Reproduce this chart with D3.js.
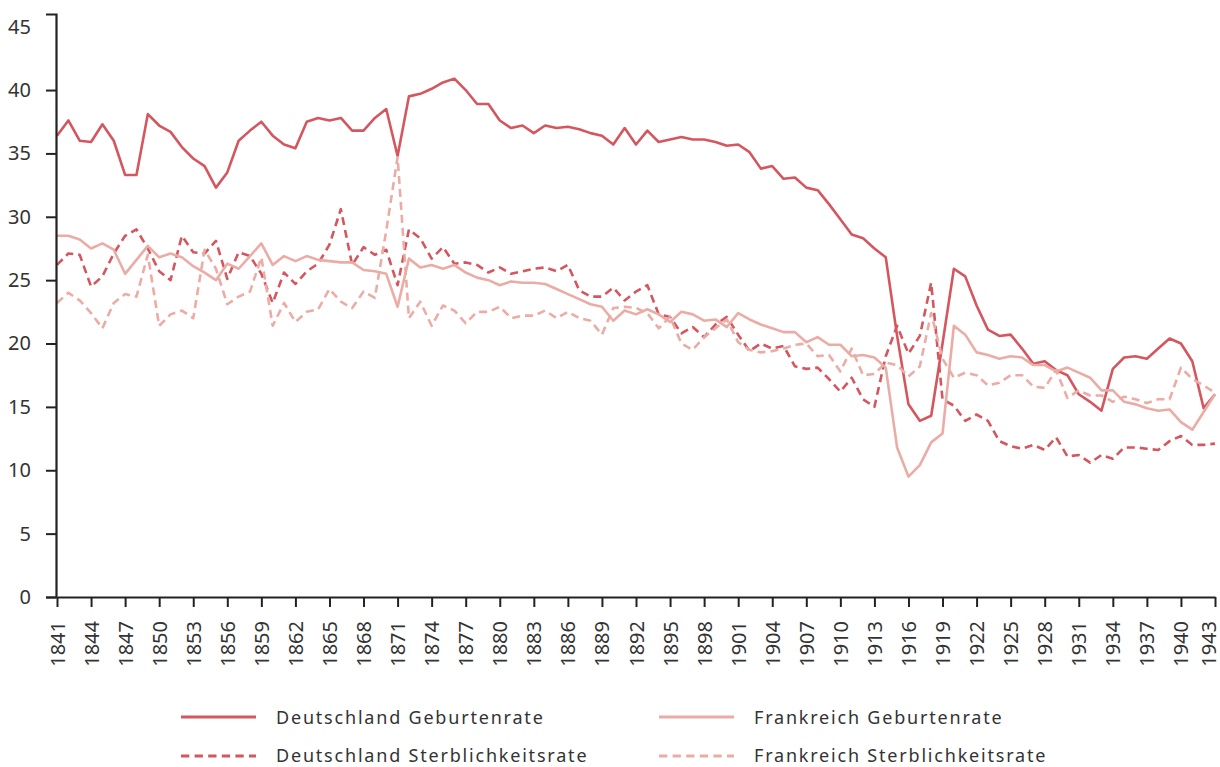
<!DOCTYPE html>
<html>
<head>
<meta charset="utf-8">
<script src="https://cdn.jsdelivr.net/npm/d3@7"></script>
<style>
  html, body { margin: 0; padding: 0; background: #fff; }
  svg { display: block; }
  text { font-family: "Noto Sans", "Open Sans", sans-serif; fill: #333; }
</style>
</head>
<body>
<svg id="chart" width="1220" height="767"></svg>
<script>
const years = d3.range(1841, 1944);

const deBirth = [36.4,37.6,36.0,35.9,37.3,36.0,33.3,33.3,38.1,37.2,36.7,35.5,34.6,34.0,32.3,33.5,36.0,36.8,37.5,36.4,35.7,35.4,37.5,37.8,37.6,37.8,36.8,36.8,37.8,38.5,34.8,39.5,39.7,40.1,40.6,40.9,40.0,38.9,38.9,37.6,37.0,37.2,36.6,37.2,37.0,37.1,36.9,36.6,36.4,35.7,37.0,35.7,36.8,35.9,36.1,36.3,36.1,36.1,35.9,35.6,35.7,35.1,33.8,34.0,33.0,33.1,32.3,32.1,31.0,29.8,28.6,28.3,27.5,26.8,20.6,15.2,13.9,14.3,20.0,25.9,25.3,23.0,21.1,20.6,20.7,19.6,18.4,18.6,17.9,17.5,16.0,15.4,14.7,18.0,18.9,19.0,18.8,19.6,20.4,20.0,18.6,14.9,16.0];

const deDeath = [26.2,27.1,27.0,24.5,25.3,27.1,28.5,29.0,27.5,25.7,25.0,28.5,27.2,27.1,28.1,25.1,27.2,26.9,25.5,23.2,25.6,24.7,25.7,26.3,27.8,30.6,26.2,27.6,27.0,27.4,24.6,29.0,28.3,26.7,27.6,26.3,26.4,26.2,25.6,26.0,25.5,25.7,25.9,26.0,25.7,26.2,24.2,23.7,23.7,24.4,23.4,24.1,24.6,22.3,22.1,20.8,21.3,20.5,21.5,22.1,20.7,19.4,20.0,19.6,19.8,18.2,18.0,18.1,17.2,16.2,17.3,15.6,15.0,19.0,21.4,19.2,20.6,24.8,15.6,15.1,13.9,14.4,13.9,12.3,11.9,11.7,12.0,11.6,12.6,11.1,11.2,10.6,11.2,10.9,11.8,11.8,11.7,11.6,12.3,12.7,12.0,12.0,12.1];

const frBirth = [28.5,28.5,28.2,27.5,27.9,27.4,25.5,26.6,27.7,26.8,27.1,26.8,26.1,25.6,25.0,26.3,25.9,26.9,27.9,26.2,26.9,26.5,26.9,26.6,26.5,26.4,26.4,25.8,25.7,25.5,22.9,26.7,26.0,26.2,25.9,26.2,25.6,25.2,25.0,24.6,24.9,24.8,24.8,24.7,24.3,23.9,23.5,23.1,22.9,21.8,22.6,22.3,22.7,22.3,21.7,22.5,22.3,21.8,21.9,21.3,22.4,21.9,21.5,21.2,20.9,20.9,20.1,20.5,19.9,19.9,19.0,19.1,18.9,18.1,11.8,9.5,10.4,12.2,12.9,21.4,20.7,19.3,19.1,18.8,19.0,18.9,18.3,18.3,17.8,18.1,17.7,17.3,16.3,16.3,15.4,15.2,14.9,14.7,14.8,13.8,13.2,14.6,16.0];

const frDeath = [23.2,24.0,23.4,22.4,21.2,23.2,23.9,23.7,27.0,21.4,22.3,22.6,22.0,27.4,25.9,23.1,23.7,24.1,26.8,21.4,23.2,21.7,22.5,22.7,24.3,23.3,22.8,24.1,23.6,28.9,34.7,22.0,23.3,21.4,23.0,22.6,21.6,22.5,22.5,22.9,22.0,22.2,22.2,22.6,22.0,22.5,22.0,21.8,20.7,22.8,22.9,22.8,22.4,21.2,22.1,20.0,19.5,20.5,21.2,21.9,20.1,19.5,19.3,19.4,19.6,19.9,20.0,19.0,19.1,17.8,19.6,17.5,17.6,18.5,18.3,17.4,18.2,22.4,18.8,17.3,17.7,17.5,16.7,16.9,17.5,17.5,16.6,16.5,17.9,15.7,16.3,15.9,15.9,15.4,15.8,15.6,15.3,15.6,15.6,18.1,17.2,16.7,16.1];

const yTicks = [0,5,10,15,20,25,30,35,40,45];
const xTicks = d3.range(1841, 1944, 3);

const seriesNames = ["Deutschland Geburtenrate", "Frankreich Geburtenrate", "Deutschland Sterblichkeitsrate", "Frankreich Sterblichkeitsrate"];
const seriesValues = [deBirth, frBirth, deDeath, frDeath];
const seriesColors = ["#d4565e", "#ebaca6", "#d4565e", "#ebaca6"];
const seriesDashed = [false, false, true, true];

const svg = d3.select("#chart");
const x = d3.scaleLinear().domain([1841, 1943]).range([57, 1215]);
const y = d3.scaleLinear().domain([0, 46]).range([597, 14]);

// lines
const line = d3.line().x((d, i) => x(years[i])).y(d => y(d));
const order = [0, 2, 1, 3];
order.forEach(k => {
  svg.append("path")
    .datum(seriesValues[k])
    .attr("d", line)
    .attr("fill", "none")
    .attr("stroke", seriesColors[k])
    .attr("stroke-width", 2.6)
    .attr("stroke-linejoin", "round")
    .attr("stroke-dasharray", seriesDashed[k] ? "8,5" : null);
});

// y axis
const yAxis = svg.append("g")
  .attr("transform", "translate(56,0)")
  .call(d3.axisLeft(y).tickValues(yTicks).tickSize(10).tickSizeOuter(10).tickPadding(15).tickFormat(d3.format("d")));
yAxis.selectAll(".tick").filter(d => d === 45).select("line").remove();
yAxis.selectAll("text").attr("font-size", 20).attr("fill", "#333").style("font-family", '"Noto Sans", sans-serif');
yAxis.selectAll("line").attr("stroke", "#222").attr("stroke-width", 2);
yAxis.select(".domain").attr("stroke", "#222").attr("stroke-width", 2.2);

// x axis
const xAxis = svg.append("g")
  .attr("transform", "translate(0,597)")
  .call(d3.axisBottom(x).tickValues(xTicks).tickSize(10).tickSizeOuter(0).tickFormat(d3.format("d")));
xAxis.selectAll("line").attr("stroke", "#222").attr("stroke-width", 2);
xAxis.select(".domain").attr("stroke", "#222").attr("stroke-width", 2.2);
xAxis.selectAll("text")
  .attr("font-size", 20)
  .attr("fill", "#333")
  .style("font-family", '"Noto Sans", sans-serif')
  .attr("text-anchor", "end")
  .attr("transform", d => `translate(${d === 1943 ? -7 : 0},24) rotate(-90)`)
  .attr("x", 0).attr("y", 0).attr("dy", "0.35em");

// legend
const legendPos = [[181, 717, 724], [659, 717, 724], [181, 756, 761.5], [659, 756, 761.5]];
seriesNames.forEach((name, k) => {
  const [lx, ly, tb] = legendPos[k];
  svg.append("line").attr("x1", lx).attr("x2", lx + 75).attr("y1", ly).attr("y2", ly)
    .attr("stroke", seriesColors[k]).attr("stroke-width", 2.8)
    .attr("stroke-dasharray", seriesDashed[k] ? "8.3,5.3" : null);
  svg.append("text").attr("x", lx + 95).attr("y", tb)
    .attr("font-size", 18).attr("letter-spacing", 1.8).attr("fill", "#333").text(name);
});
</script>
</body>
</html>
